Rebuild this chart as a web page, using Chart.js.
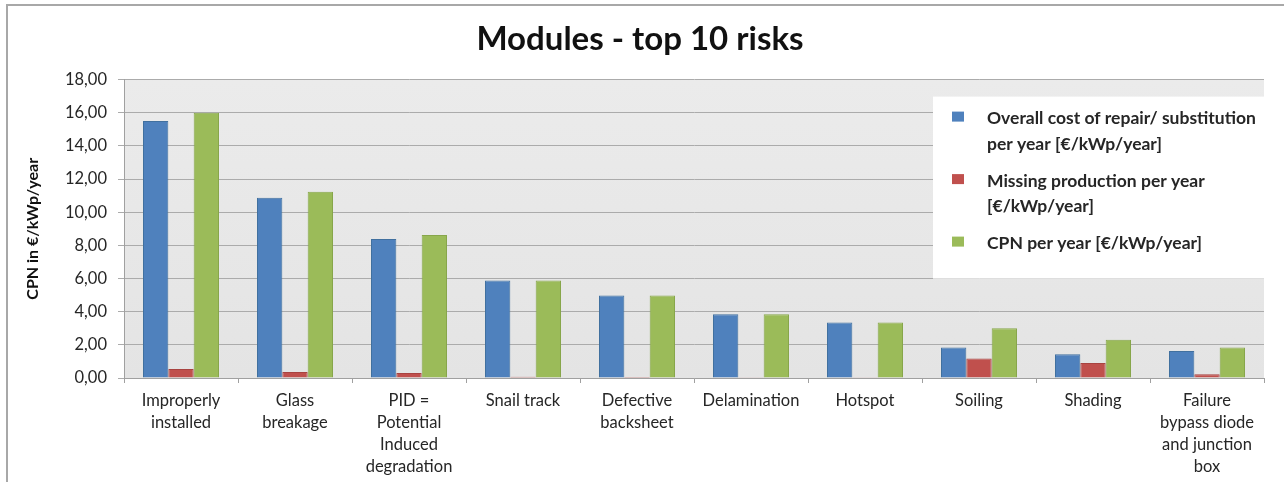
<!DOCTYPE html>
<html>
<head>
<meta charset="utf-8">
<script src="https://cdn.jsdelivr.net/npm/chart.js@4/dist/chart.umd.min.js"></script>
<style>
  html, body { margin: 0; padding: 0; background: #ffffff; }
  #wrap { width: 1284px; height: 482px; }
</style>
</head>
<body>
<div id="wrap"><canvas id="c" width="1284" height="482"></canvas></div>
<script>
// ---- data ----
const categories = [
  ["Improperly", "installed"],
  ["Glass", "breakage"],
  ["PID =", "Potential", "Induced", "degradation"],
  "Snail track",
  ["Defective", "backsheet"],
  "Delamination",
  "Hotspot",
  "Soiling",
  "Shading",
  ["Failure", "bypass diode", "and junction", "box"]
];
const overallCost = [15.50, 10.87, 8.38, 5.88, 4.97, 3.85, 3.35, 1.84, 1.43, 1.63];
const missingProduction = [0.54, 0.36, 0.30, 0.07, 0.06, 0.05, 0.05, 1.17, 0.91, 0.22];
const cpnPerYear = [16.00, 11.23, 8.62, 5.88, 4.97, 3.85, 3.35, 3.00, 2.30, 1.84];
const legendLines = [
  ["Overall cost of repair/ substitution", "per year [€/kWp/year]"],
  ["Missing production per year", "[€/kWp/year]"],
  ["CPN per year [€/kWp/year]"]
];
const yTickValues = [0, 2, 4, 6, 8, 10, 12, 14, 16, 18];
const chartTitle = "Modules - top 10 risks";
const yAxisTitle = "CPN in €/kWp/year";

const FONT = "Lato, 'Noto Sans', sans-serif";
const colors = ["#4f81bd", "#c0504d", "#9bbb59"];
const borders = ["#41709f", "#a84340", "#87a64b"];

const framePlugin = {
  id: 'frame',
  beforeDraw(chart) {
    const ctx = chart.ctx;
    ctx.save();
    ctx.fillStyle = '#ffffff';
    ctx.fillRect(0, 0, chart.width, chart.height);
    ctx.strokeStyle = '#a8a8a8';
    ctx.lineWidth = 2;
    ctx.strokeRect(7, 5, chart.width + 20, chart.height + 20);
    const a = chart.chartArea;
    const g = ctx.createLinearGradient(0, a.top, 0, a.bottom);
    g.addColorStop(0, '#ebebeb');
    g.addColorStop(1, '#e4e4e4');
    ctx.fillStyle = g;
    ctx.fillRect(a.left, a.top, a.right - a.left, a.bottom - a.top);
    ctx.restore();
  }
};

const legendPlugin = {
  id: 'boxLegend',
  afterDatasetsDraw(chart) {
    const ctx = chart.ctx;
    const a = chart.chartArea;
    const bx = a.right - 331, by = a.top + 17, bw = 331, bh = 182;
    ctx.save();
    ctx.fillStyle = '#ffffff';
    ctx.fillRect(bx, by, bw, bh);
    ctx.font = "bold 17.5px " + FONT;
    ctx.textBaseline = 'middle';
    ctx.textAlign = 'left';
    let y = by + 22;
    chart.data.datasets.forEach((ds, i) => {
      ctx.fillStyle = ds.backgroundColor;
      ctx.fillRect(bx + 19, y - 7, 12, 10);
      ctx.fillStyle = '#262626';
      legendLines[i].forEach((line, j) => {
        ctx.fillText(line, bx + 54, y + j * 25.5);
      });
      y += (legendLines[i].length - 1) * 25.5 + 37;
    });
    ctx.restore();
  }
};

new Chart(document.getElementById('c'), {
  type: 'bar',
  data: {
    labels: categories,
    datasets: [
      { label: legendLines[0].join(' '), data: overallCost, backgroundColor: colors[0], borderColor: borders[0], borderWidth: 1 },
      { label: legendLines[1].join(' '), data: missingProduction, backgroundColor: colors[1], borderColor: borders[1], borderWidth: 1 },
      { label: legendLines[2].join(' '), data: cpnPerYear, backgroundColor: colors[2], borderColor: borders[2], borderWidth: 1 }
    ]
  },
  options: {
    responsive: false,
    animation: false,
    devicePixelRatio: 1,
    layout: { padding: { left: 16, right: 20, top: 0, bottom: 0 } },
    datasets: { bar: { barPercentage: 1.0, categoryPercentage: 0.667 } },
    plugins: {
      legend: { display: false },
      tooltip: { enabled: false },
      title: {
        display: true,
        text: chartTitle,
        color: '#111111',
        font: { family: FONT, size: 33, weight: 'bold', lineHeight: 1.2 },
        padding: { top: 20, bottom: 20 }
      }
    },
    scales: {
      x: {
        grid: { display: true, drawOnChartArea: false, drawTicks: true, tickLength: 5, color: '#a0a0a0', offset: true },
        border: { display: true, color: '#a0a0a0', width: 1 },
        ticks: {
          color: '#262626',
          font: { family: FONT, size: 16.5, lineHeight: 1.33 },
          padding: 7,
          maxRotation: 0,
          autoSkip: false
        },
        afterFit(scale) { scale.height = 104; }
      },
      y: {
        min: 0,
        max: 18,
        afterBuildTicks(scale) { scale.ticks = yTickValues.map(v => ({ value: v })); },
        ticks: {
          color: '#262626',
          font: { family: FONT, size: 16.5 },
          padding: 11,
          callback: (v) => Number(v).toFixed(2).replace('.', ',')
        },
        grid: { color: '#ababab', lineWidth: 1, tickLength: 6, drawTicks: true },
        border: { display: true, color: '#a0a0a0', width: 1 },
        title: {
          display: true,
          text: yAxisTitle,
          color: '#111111',
          font: { family: FONT, size: 16, weight: 'bold', lineHeight: 1.2 },
          padding: { top: 7, bottom: 0 }
        },
        afterFit(scale) { scale.width = 108; }
      }
    }
  },
  plugins: [framePlugin, legendPlugin]
});
</script>
</body>
</html>
